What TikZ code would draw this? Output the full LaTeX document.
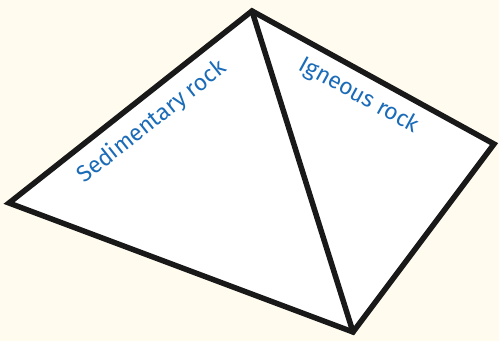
\documentclass[tikz,border=0pt]{standalone}
\usepackage{fontspec}
\setmainfont{Fira Sans}
\definecolor{bgcream}{HTML}{FFFBEE}
\definecolor{labelblue}{HTML}{1A6BB8}
\begin{document}
\begin{tikzpicture}[x=1pt,y=1pt,
  edge/.style={line width=5.5pt,line join=miter,line cap=round,draw=black!90},
  lbl/.style={text=labelblue,font=\fontsize{23}{26}\selectfont,inner sep=0pt}]
\fill[bgcream] (0,0) rectangle (499,341);
\useasboundingbox (0,0) rectangle (499,341);
\coordinate (T) at (252,330);
\coordinate (R) at (494,197);
\coordinate (B) at (353,9);
\coordinate (L) at (9,138);
\fill[white] (T) -- (R) -- (B) -- (L) -- cycle;
\draw[edge] (T) -- (R) -- (B) -- (L) -- cycle;
\draw[edge] (T) -- (B);
\node[lbl,rotate=38.3] (sed) at (152,219) {Sedimentary rock};
\node[lbl,rotate=-28.8] (ign) at (359,245) {Igneous rock};
\end{tikzpicture}
\end{document}
